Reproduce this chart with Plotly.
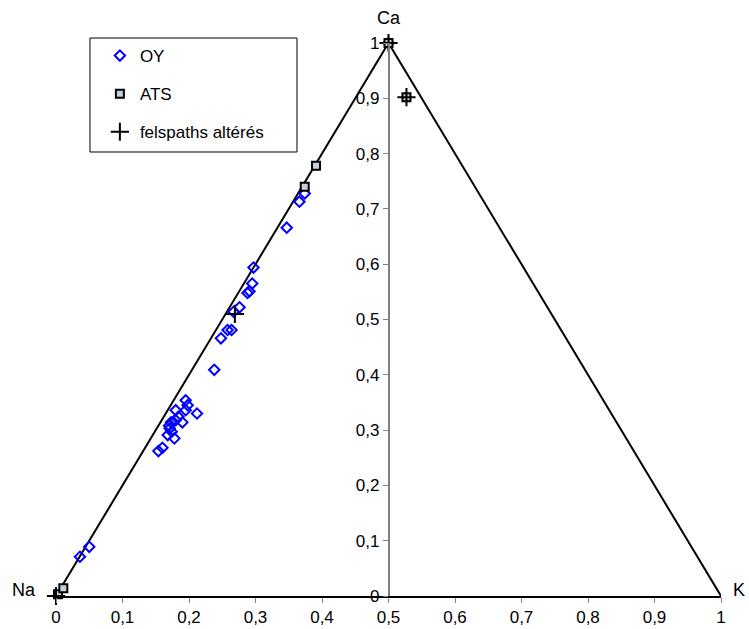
import plotly.graph_objects as go

# ---- data (ternary Na-Ca-K projected in x/y) ----
oy_x = [0.036, 0.050, 0.154, 0.160, 0.168, 0.178, 0.174, 0.171, 0.170, 0.173,
        0.180, 0.190, 0.184, 0.180, 0.195, 0.198, 0.195, 0.212, 0.238, 0.248,
        0.258, 0.264, 0.267, 0.276, 0.288, 0.291, 0.295, 0.297, 0.347, 0.366,
        0.374, 0.500]
oy_y = [0.071, 0.089, 0.262, 0.268, 0.291, 0.285, 0.297, 0.303, 0.308, 0.314,
        0.318, 0.314, 0.324, 0.336, 0.336, 0.345, 0.354, 0.330, 0.409, 0.466,
        0.481, 0.481, 0.514, 0.522, 0.548, 0.551, 0.565, 0.594, 0.666, 0.713,
        0.728, 1.000]

ats_x = [0.003, 0.011, 0.374, 0.391, 0.527, 0.500]
ats_y = [0.003, 0.014, 0.740, 0.778, 0.902, 1.000]

fel_x = [0.000, 0.269, 0.527, 0.500]
fel_y = [0.000, 0.510, 0.902, 1.000]

tri_x = [0, 0.5, 1]
tri_y = [0, 1, 0]

tick_vals = [0, 0.1, 0.2, 0.3, 0.4, 0.5, 0.6, 0.7, 0.8, 0.9, 1]
tick_text = ["0", "0,1", "0,2", "0,3", "0,4", "0,5", "0,6", "0,7", "0,8", "0,9", "1"]

corner_labels = ["Na", "Ca", "K"]

FONT = "Liberation Sans, Arial, sans-serif"

fig = go.Figure()

fig.add_trace(go.Scatter(x=tri_x, y=tri_y, mode="lines",
                         line=dict(color="black", width=2),
                         showlegend=False, hoverinfo="skip", cliponaxis=False))

fig.add_trace(go.Scatter(x=oy_x, y=oy_y, mode="markers", name="OY",
                         legendgroup="a",
                         marker=dict(symbol="diamond-open", size=8, color="#0000ff",
                                     line=dict(width=2, color="#0000ff")),
                         cliponaxis=False))
fig.add_trace(go.Scatter(x=ats_x, y=ats_y, mode="markers", name="ATS",
                         legendgroup="b",
                         marker=dict(symbol="square", size=8, color="#c4d0da",
                                     line=dict(width=2, color="black")),
                         cliponaxis=False))
fig.add_trace(go.Scatter(x=fel_x, y=fel_y, mode="markers", name="felspaths altérés",
                         legendgroup="c",
                         marker=dict(symbol="cross-thin-open", size=13, color="black",
                                     line=dict(width=2, color="black")),
                         cliponaxis=False))

fig.update_layout(
    width=749, height=629,
    margin=dict(l=56, r=28, t=43, b=33, autoexpand=False),
    paper_bgcolor="white", plot_bgcolor="white",
    separators=", ",
    font=dict(family=FONT, size=17, color="black"),
    showlegend=True,
    legend=dict(x=0.066, y=1.009, xanchor="left", yanchor="top",
                borderwidth=0, bgcolor="rgba(0,0,0,0)",
                font=dict(family=FONT, size=17, color="black"),
                traceorder="grouped", tracegroupgap=13),
    xaxis=dict(range=[0, 1], tickvals=tick_vals, ticktext=tick_text,
               showgrid=False, zeroline=False, showline=True, automargin=False,
               linecolor="black", linewidth=2,
               ticks="outside", ticklen=5, tickcolor="#808080",
               tickfont=dict(family=FONT, size=17, color="black")),
    yaxis=dict(range=[0, 1], tickvals=tick_vals, ticktext=tick_text,
               showgrid=False, zeroline=False, showline=True, automargin=False,
               linecolor="#808080", linewidth=1.5,
               anchor="free", position=0.5, side="left",
               ticks="outside", ticklen=5, tickcolor="#808080",
               tickfont=dict(family=FONT, size=17, color="black")),
    shapes=[dict(type="rect", xref="paper", yref="paper",
                 x0=0.0511, x1=0.3624, y0=0.8029, y1=1.009,
                 line=dict(color="black", width=1), layer="below")],
)

fig.add_annotation(x=0, y=0, xref="x", yref="y", text=corner_labels[0],
                   showarrow=False, xanchor="right", yanchor="middle",
                   xshift=-18, yshift=6, font=dict(family=FONT, size=18))
fig.add_annotation(x=0.5, y=1, xref="x", yref="y", text=corner_labels[1],
                   showarrow=False, xanchor="center", yanchor="bottom",
                   yshift=13, font=dict(family=FONT, size=18))
fig.add_annotation(x=1, y=0, xref="x", yref="y", text=corner_labels[2],
                   showarrow=False, xanchor="left", yanchor="middle",
                   xshift=10, yshift=6, font=dict(family=FONT, size=18))

fig.write_html("out.html")
